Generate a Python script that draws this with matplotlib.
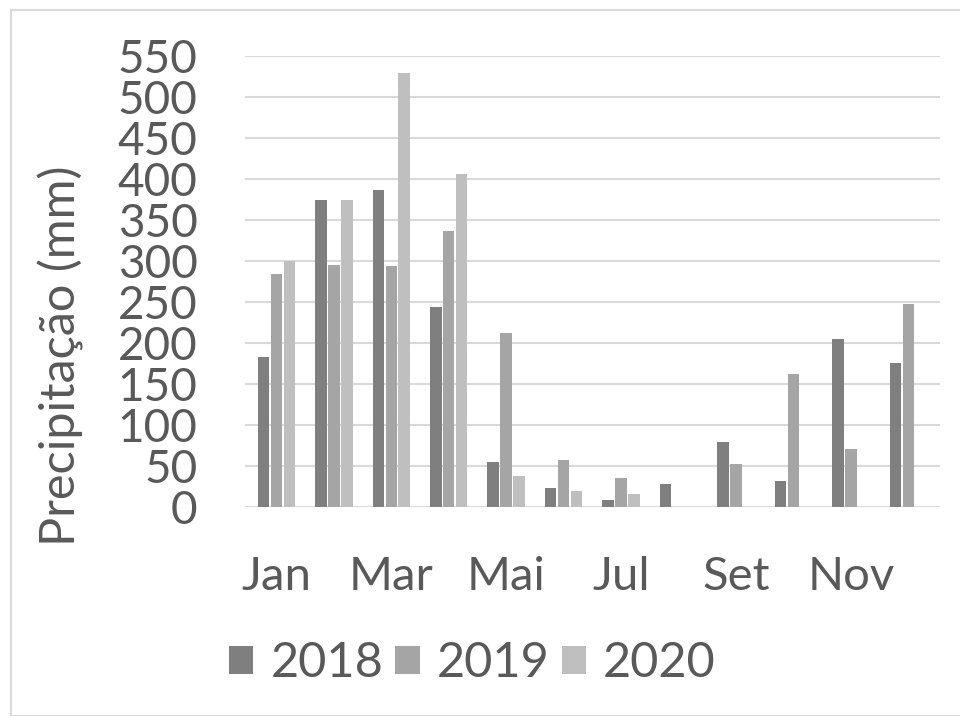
import numpy as np
import matplotlib
matplotlib.use('Agg')
import matplotlib.pyplot as plt
from matplotlib.patches import Rectangle

months = ['Jan', 'Fev', 'Mar', 'Abr', 'Mai', 'Jun', 'Jul', 'Ago', 'Set', 'Out', 'Nov', 'Dez']
years = ['2018', '2019', '2020']
precip_2018 = [183, 374, 387, 244, 55, 23, 8, 28, 79, 32, 205, 176]
precip_2019 = [284, 295, 294, 337, 212, 57, 35, 0, 52, 162, 71, 248]
precip_2020 = [300, 374, 529, 406, 38, 20, 16, 0, 0, 0, 0, 0]
colors = ['#7f7f7f', '#a5a5a5', '#bfbfbf']
yticks = list(range(0, 551, 50))

plt.rcParams['font.family'] = ['Lato', 'DejaVu Sans']
text_color = '#595959'

fig = plt.figure(figsize=(9.6, 7.16), dpi=100)
ax = fig.add_axes([0.255, 0.292, 0.724, 0.630])

x = np.arange(len(months))
width = 0.2
step = 0.225
for i, (vals, year, c) in enumerate(zip([precip_2018, precip_2019, precip_2020], years, colors)):
    ax.bar(x + (i - 1) * step, vals, width, color=c, label=year, zorder=3)

ax.set_ylim(0, 550)
ax.set_xlim(-0.55, 11.55)
ax.set_yticks(yticks)
ax.set_yticklabels([str(v) for v in yticks], fontsize=33, color=text_color)
ax.set_xticks(x[::2])
ax.set_xticklabels(months[::2], fontsize=34, color=text_color)
ax.tick_params(axis='both', length=0)
ax.tick_params(axis='y', pad=34)
ax.tick_params(axis='x', pad=35)
ax.yaxis.grid(True, color='#d9d9d9', linewidth=1.5, zorder=0)
for s in ax.spines.values():
    s.set_visible(False)

ax.set_ylabel('Precipitação (mm)', fontsize=35, color=text_color)
ax.yaxis.set_label_coords(-0.232, 0.335)

fig.legend(loc='center', bbox_to_anchor=(0.492, 0.074), ncol=3, frameon=False,
           fontsize=35, labelcolor=text_color, handlelength=0.5, handleheight=0.5,
           handletextpad=0.35, columnspacing=0.25)

fig.patches.append(Rectangle((0.011, 0.0), 0.995, 0.986, transform=fig.transFigure,
                             fill=False, edgecolor='#d9d9d9', linewidth=1.5))

fig.savefig('out.png', dpi=100)
